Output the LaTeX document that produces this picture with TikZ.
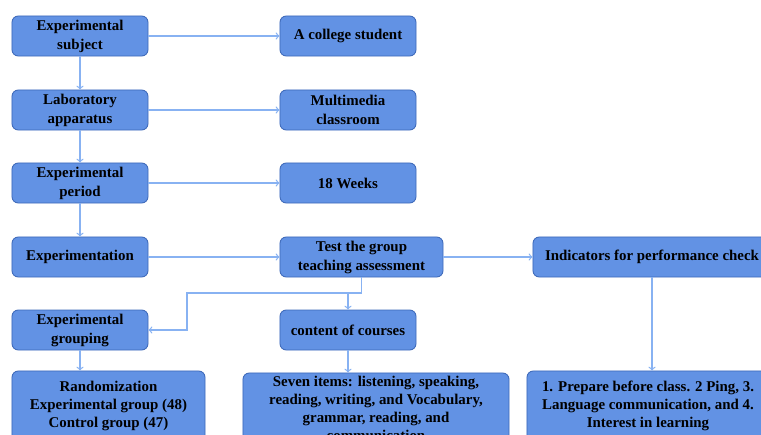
\documentclass[tikz,border=0pt]{standalone}
\usepackage{fontspec}
\setmainfont{Liberation Serif}
\definecolor{boxfill}{RGB}{98,146,228}
\definecolor{boxline}{RGB}{60,104,184}
\definecolor{linkblue}{RGB}{136,178,242}

\begin{document}
\begin{tikzpicture}[x=0.025cm, y=-0.025cm,
  box/.style={draw=boxline, fill=boxfill, rounded corners=4.5pt, line width=0.6pt,
    minimum width=3.4cm, minimum height=1cm, inner sep=1pt, align=center,
    font=\bfseries\fontsize{10.6}{13.5}\selectfont},
  tallbox/.style={box, minimum height=1.75cm, font=\bfseries\fontsize{10.6}{12.8}\selectfont},
  link/.style={->, draw=linkblue, line width=0.9pt}]
\clip (0,0) rectangle (761,434);
%\draw[draw=black] (0,0) rectangle (761,434);
\node[box] (subj) at (80,36) {Experimental\\subject};
\node[box] (student) at (348,36) {A college student};
\node[box] (equip) at (80,110) {Laboratory\\apparatus};
\node[box] (media) at (348,110) {Multimedia\\classroom};
\node[box] (period) at (80,183) {Experimental\\period};
\node[box] (weeks) at (348,183) {18 Weeks};
\node[box] (expm) at (80,257) {Experimentation};
\node[box, minimum width=4.075cm] (test) at (361.5,257) {Test the group\\teaching assessment};
\node[box, minimum width=5.95cm] (indic) at (652,257) {Indicators for performance check};
\node[box] (grouping) at (80,330) {Experimental\\grouping};
\node[box] (content) at (348,330) {content of courses};
\node[tallbox, minimum width=4.825cm] (random) at (108.5,406) {Randomization\\Experimental group (48)\\Control group (47)};
\node[tallbox, minimum width=6.65cm] (seven) at (376,408) {Seven items: listening, speaking,\\reading, writing, and Vocabulary,\\grammar, reading, and\\communication};
\node[tallbox, minimum width=6.05cm] (result) at (648,406) {1. Prepare before class. 2 Ping, 3.\\Language communication, and 4.\\Interest in learning};

\draw[link] (subj.east) -- (student.west);
\draw[link] (equip.east) -- (media.west);
\draw[link] (period.east) -- (weeks.west);
\draw[link] (expm.east) -- (test.west);
\draw[link] (test.east) -- (indic.west);
\draw[link] (subj) -- (equip);
\draw[link] (equip) -- (period);
\draw[link] (period) -- (expm);
\draw[link] (grouping.south) -- (grouping.south |- random.north);
\draw[link] (content.south) -- (content.south |- seven.north);
\draw[link] (indic.south) -- (indic.south |- result.north);
\coordinate (split) at (content.north |- 0,293);
\draw[link] (test.south) |- (187,293) |- (grouping.east);
\draw[link] (split) -- (content.north);
\end{tikzpicture}
\end{document}
